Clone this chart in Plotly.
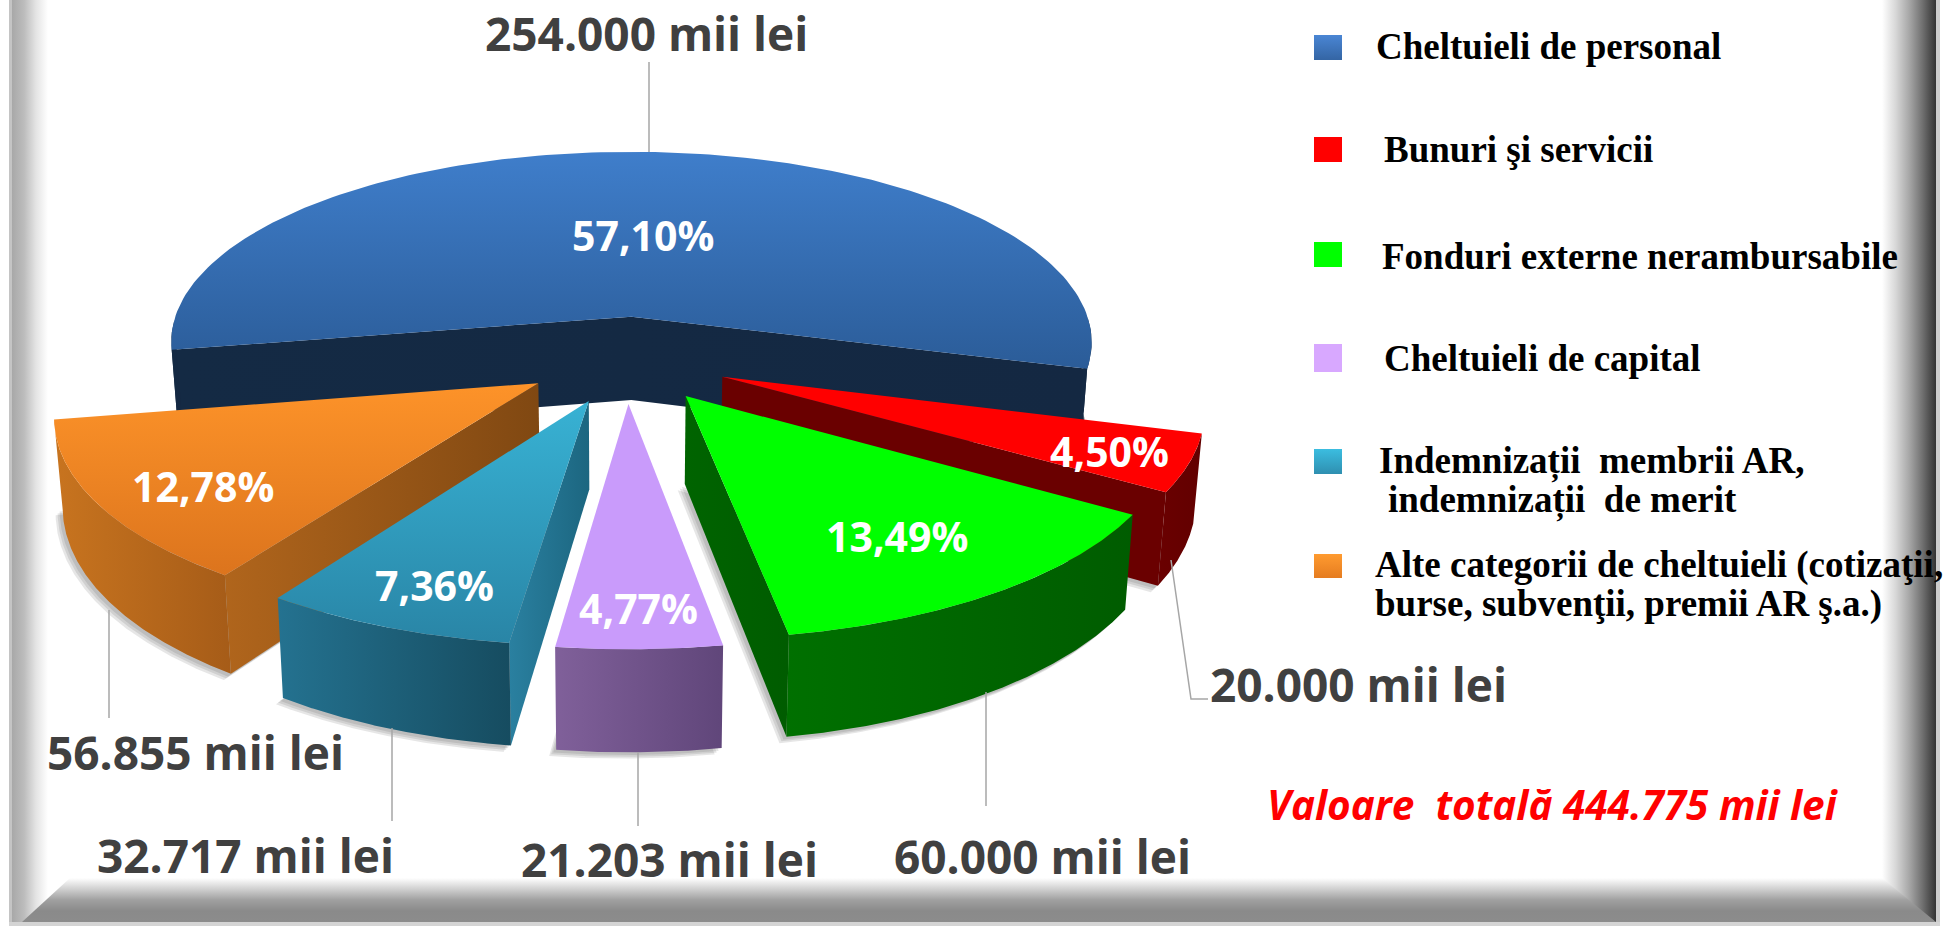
import numpy as np
import plotly.graph_objects as go

# ---------- data ----------
categories = ["Cheltuieli de personal", "Bunuri şi servicii", "Fonduri externe nerambursabile",
              "Cheltuieli de capital", "Indemnizații membrii AR, indemnizații de merit",
              "Alte categorii de cheltuieli"]
values_mii_lei = [254000, 20000, 60000, 21203, 32717, 56855]
value_labels = ["254.000 mii lei", "20.000 mii lei", "60.000 mii lei",
                "21.203 mii lei", "32.717 mii lei", "56.855 mii lei"]
percent_labels = ["57,10%", "4,50%", "13,49%", "4,77%", "7,36%", "12,78%"]
total_label = "Valoare  totală 444.775 mii lei"

# ---------- styles ----------
top_colors = [["#3f7ecb", "#2b5c98"], ["#ff0000", "#ff0000"], ["#00ff00", "#00ff00"],
              ["#c99bfb", "#c99bfb"], ["#38b2d4", "#2985a6"], ["#fd9329", "#dc741d"]]
wall_colors = [["#142a44", "#142842"], ["#6a0000", "#620000"], ["#007000", "#005c00"],
               ["#80609a", "#60467a"], ["#247290", "#164c60"], ["#c8741f", "#a65c18"]]
face_colors = [["#142a44", "#142842"], ["#6a0000", "#6a0000"], ["#006400", "#005c00"],
               ["#80609a", "#60467a"], ["#2a80a0", "#1c6680"], ["#b0651c", "#804812"]]
draw_order = [0, 1, 5, 2, 4, 3]

CX, CY, A, B, D, EXPLODE, DEPTH = 504 * 1.243, 288.8 * 1.243, 378 * 1.243, 159.5 * 1.243, 7.3, 0.22, 69 * 1.243
BOTTOM_SHRINK = 0.985
START_DEG = 15.6


def project(X, Y):
    s = D / (D - np.asarray(Y))
    return CX + A * s * np.asarray(X), CY + B * s * np.asarray(Y), s


total = sum(values_mii_lei)
sweeps = [v / total * 360 for v in values_mii_lei]
starts = {}
cur = START_DEG
for i in [1, 2, 3, 4, 5, 0]:
    starts[i] = cur
    cur += sweeps[i]

fig = go.Figure()


def poly(xs, ys, colors, orient="vertical"):
    xs, ys = list(map(float, xs)), list(map(float, ys))
    rng = ys if orient == "vertical" else xs
    scale = [[k / (len(colors) - 1), c] for k, c in enumerate(colors)]
    fig.add_trace(go.Scatter(
        x=xs + xs[:1], y=ys + ys[:1], mode="lines", fill="toself", line=dict(width=0),
        fillgradient=dict(type=orient, colorscale=scale, start=min(rng), stop=max(rng)),
        hoverinfo="skip", showlegend=False))


def flat(xs, ys, rgba):
    fig.add_trace(go.Scatter(x=list(xs), y=list(ys), mode="lines", fill="toself", line=dict(width=0),
                             fillcolor=rgba, hoverinfo="skip", showlegend=False))


# ---------- frame ----------
poly([12, 48, 48, 12], [0, 0, 926, 926], ["#a8a8a8", "#bcbcbc", "#e4e4e4", "#ffffff"], "horizontal")
poly([1882, 1936, 1936, 1882], [0, 0, 926, 926],
     ["#ffffff", "#d8d8d8", "#a8a8a8", "#707070", "#333333"], "horizontal")
poly([22, 70, 1882, 1936], [922, 878, 878, 922], ["#ffffff", "#d0d0d0", "#a0a0a0", "#8a8a8a", "#8c8c8c"])
flat([9, 12, 12, 9], [0, 0, 926, 926], "#c4c4c4")
flat([1936, 1940, 1940, 1936], [0, 0, 926, 926], "#cccccc")
flat([9, 1940, 1940, 9], [922, 922, 926, 926], "#d4d4d4")

# ---------- pie ----------
for i in draw_order:
    a0, a1 = starts[i], starts[i] + sweeps[i]
    mid = np.radians((a0 + a1) / 2)
    ox, oy = EXPLODE * np.cos(mid), EXPLODE * np.sin(mid)
    phi = np.radians(np.linspace(a0, a1, 160))
    ax, ay, asc = project(ox, oy)
    px, py, ps = project(ox + np.cos(phi), oy + np.sin(phi))
    bx, by = CX + (px - CX) * BOTTOM_SHRINK, py + DEPTH * ps
    abx, aby = CX + (ax - CX) * BOTTOM_SHRINK, ay + DEPTH * asc

    if i != 0:
        for k in (7, 5, 3):
            flat(np.r_[abx, bx, abx] - k, np.r_[aby, by, aby] + k * 0.9, "rgba(60,60,60,0.13)")

    show_start, show_end = px[0] < ax, px[-1] > ax
    if show_start and show_end:
        poly([px[0], ax, px[-1], bx[-1], abx, bx[0]], [py[0], ay, py[-1], by[-1], aby, by[0]],
             face_colors[i], "horizontal")
    elif show_start:
        poly([ax, px[0], bx[0], abx], [ay, py[0], by[0], aby], face_colors[i], "horizontal")
    elif show_end:
        poly([ax, px[-1], bx[-1], abx], [ay, py[-1], by[-1], aby], face_colors[i], "horizontal")

    near = np.sin(phi) >= 0
    if near.any():
        idx = np.where(near)[0]
        for r in np.split(idx, np.where(np.diff(idx) > 1)[0] + 1):
            poly(np.r_[px[r], bx[r][::-1]], np.r_[py[r], by[r][::-1]], wall_colors[i], "horizontal")

    poly(np.r_[ax, px], np.r_[ay, py], top_colors[i], "vertical")

# ---------- leader lines ----------
leaders = [
    ([649, 649], [62, 152]),
    ([109, 109], [610, 718]),
    ([392, 392], [728, 821]),
    ([638, 638], [752, 826]),
    ([986, 986], [692, 806]),
    ([1171, 1191, 1208], [560, 699, 699]),
]
for lx, ly in leaders:
    fig.add_trace(go.Scatter(x=lx, y=ly, mode="lines", line=dict(color="#a6a6a6", width=1.5),
                             hoverinfo="skip", showlegend=False))

# ---------- legend swatches ----------
swatch_y = [(35, 60), (137, 162), (242, 267), (344, 372), (449, 474), (554, 578)]
swatch_colors = [["#4a86d4", "#3465a4"], ["#ff0000", "#ff0000"], ["#00ff00", "#00ff00"],
                 ["#d8a8ff", "#d8a8ff"], ["#3bbde0", "#2f8fb0"], ["#ff9b30", "#e57c20"]]
for (y0, y1), c in zip(swatch_y, swatch_colors):
    poly([1314, 1342, 1342, 1314], [y0, y0, y1, y1], c, "vertical")

# ---------- texts ----------
notes = []
SANS = "Open Sans"
SERIF = "Liberation Serif"
value_pos = [(646, 33), (1358, 684), (1042, 856), (669, 859), (245, 855), (195, 752)]
for t, (x, y) in zip(value_labels, value_pos):
    notes.append(dict(x=x, y=y, text=f"<b>{t}</b>", xanchor="center", yanchor="middle", showarrow=False,
                      font=dict(family=SANS, size=46, color="#404040")))
pct_pos = [(643, 235), (1109, 451), (897, 536), (638, 608), (434, 585), (203, 486)]
for t, (x, y) in zip(percent_labels, pct_pos):
    notes.append(dict(x=x, y=y, text=f"<b>{t}</b>", xanchor="center", yanchor="middle", showarrow=False,
                      font=dict(family=SANS, size=41, color="#ffffff")))
notes.append(dict(x=1552, y=804, text=f"<b><i>{total_label}</i></b>", xanchor="center", yanchor="middle",
                  showarrow=False, font=dict(family=SANS, size=40.5, color="#ff0000")))
legend_lines = [
    ("Cheltuieli de personal", 1374, 46), ("Bunuri şi servicii", 1382, 149),
    ("Fonduri externe nerambursabile", 1380, 256), ("Cheltuieli de capital", 1382, 358),
    ("Indemnizații  membrii AR,", 1377, 461), ("indemnizații  de merit", 1386, 500),
    ("Alte categorii de cheltuieli (cotizaţii,", 1373, 565), ("burse, subvenţii, premii AR ş.a.)", 1373, 604),
]
for t, x, y in legend_lines:
    notes.append(dict(x=x, y=y, text=f"<b>{t}</b>", xanchor="left", yanchor="middle", showarrow=False,
                      font=dict(family=SERIF, size=37, color="#000000")))

fig.update_layout(
    width=1949, height=926, autosize=False,
    margin=dict(l=0, r=0, t=0, b=0), paper_bgcolor="#ffffff", plot_bgcolor="#ffffff",
    showlegend=False, annotations=notes,
    xaxis=dict(range=[0, 1949], visible=False, fixedrange=True),
    yaxis=dict(range=[926, 0], visible=False, fixedrange=True),
)
fig.write_html("out.html", config=dict(displayModeBar=False),
               post_script="document.body.style.margin='0';document.documentElement.style.overflow='hidden';")
